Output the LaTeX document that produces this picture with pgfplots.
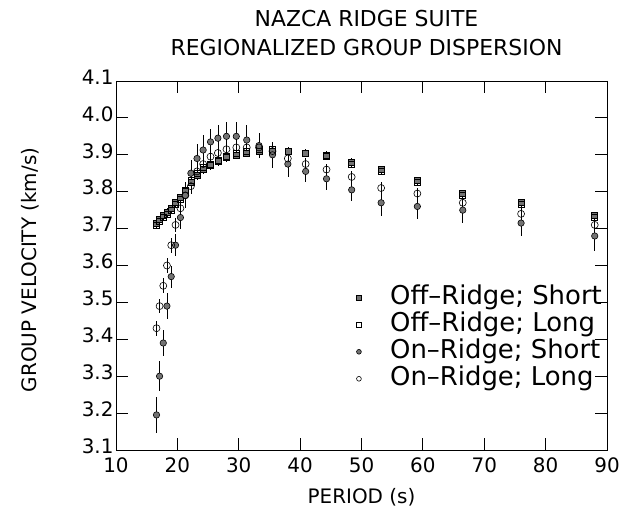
\documentclass[border=0pt]{standalone}
\usepackage{fontspec}
\setmainfont{DejaVu Sans}
\usepackage{pgfplots}
\pgfplotsset{compat=1.18}
\usepackage{pgfplotstable}
\usetikzlibrary{calc}

\pgfplotstableread{
p v e
16.6 3.715 0.010
17.1 3.725 0.010
17.7 3.735 0.010
18.3 3.745 0.010
19.0 3.755 0.010
19.7 3.770 0.010
20.5 3.785 0.010
21.3 3.805 0.010
22.2 3.825 0.012
23.2 3.845 0.012
24.2 3.860 0.012
25.4 3.872 0.012
26.6 3.882 0.012
28.0 3.892 0.012
29.6 3.900 0.012
31.3 3.905 0.012
33.3 3.910 0.012
35.5 3.910 0.012
38.0 3.910 0.012
40.9 3.905 0.010
44.3 3.900 0.010
48.4 3.880 0.010
53.2 3.860 0.010
59.1 3.830 0.010
66.5 3.795 0.010
76.0 3.770 0.010
88.0 3.735 0.010
}\offshort

\pgfplotstableread{
p v e
16.6 3.710 0.010
17.1 3.720 0.010
17.7 3.730 0.010
18.3 3.740 0.010
19.0 3.750 0.010
19.7 3.765 0.010
20.5 3.780 0.010
21.3 3.800 0.010
22.2 3.830 0.015
23.2 3.850 0.015
24.2 3.865 0.015
25.4 3.875 0.015
26.6 3.885 0.015
28.0 3.895 0.015
29.6 3.905 0.015
31.3 3.910 0.015
33.3 3.915 0.015
35.5 3.915 0.015
38.0 3.910 0.012
40.9 3.905 0.010
44.3 3.895 0.010
48.4 3.875 0.010
53.2 3.855 0.010
59.1 3.825 0.010
66.5 3.790 0.010
76.0 3.765 0.010
88.0 3.730 0.010
}\offlong

\pgfplotstableread{
p v e
16.6 3.195 0.050
17.1 3.300 0.040
17.7 3.390 0.035
18.3 3.490 0.035
19.0 3.570 0.030
19.7 3.655 0.030
20.5 3.730 0.030
21.3 3.790 0.035
22.2 3.850 0.035
23.2 3.890 0.040
24.2 3.913 0.040
25.4 3.935 0.035
26.6 3.945 0.035
28.0 3.950 0.040
29.6 3.950 0.040
31.3 3.940 0.040
33.3 3.925 0.035
35.5 3.900 0.035
38.0 3.875 0.035
40.9 3.855 0.030
44.3 3.835 0.030
48.4 3.805 0.030
53.2 3.770 0.035
59.1 3.760 0.035
66.5 3.750 0.035
76.0 3.715 0.035
88.0 3.680 0.040
}\onshort

\pgfplotstableread{
p v e
16.6 3.430 0.020
17.1 3.490 0.020
17.7 3.545 0.020
18.3 3.600 0.020
19.0 3.655 0.020
19.7 3.710 0.020
20.5 3.755 0.020
21.3 3.790 0.020
22.2 3.815 0.020
23.2 3.855 0.020
24.2 3.875 0.020
25.4 3.895 0.020
26.6 3.905 0.020
28.0 3.915 0.020
29.6 3.920 0.020
31.3 3.920 0.015
33.3 3.920 0.015
35.5 3.910 0.015
38.0 3.890 0.015
40.9 3.875 0.015
44.3 3.860 0.015
48.4 3.840 0.015
53.2 3.810 0.015
59.1 3.795 0.015
66.5 3.770 0.015
76.0 3.740 0.015
88.0 3.710 0.015
}\onlong

\begin{document}
\begin{tikzpicture}
\begin{axis}[
  name=ax,
  scale only axis,
  width=491bp, height=369bp,
  xmin=10, xmax=90, ymin=3.1, ymax=4.1,
  xtick={10,20,30,40,50,60,70,80,90},
  ytick={3.1,3.2,3.3,3.4,3.5,3.6,3.7,3.8,3.9,4.0,4.1},
  yticklabel style={/pgf/number format/fixed, /pgf/number format/fixed zerofill, /pgf/number format/precision=1, xshift=1bp, yshift=4bp},
  xticklabel style={yshift=-4bp},
  /pgf/number format/assume math mode=true,
  tick label style={font=\fontsize{20}{24}\selectfont},
  tick align=inside,
  major tick length=12bp,
  tick style={line width=0.8bp, black},
  axis line style={line width=0.9bp},
  xlabel={PERIOD (s)},
  ylabel={GROUP VELOCITY (km/s)},
  label style={font=\fontsize{20}{24}\selectfont},
  xlabel style={at={(axis description cs:0.5,-0.127)}, anchor=center},
  ylabel style={at={(axis description cs:-0.175,0.488)}, anchor=center},
  legend style={draw=none, fill=none, at={(1.0,0.455)}, anchor=north east,
    font=\fontsize{26}{27}\selectfont, row sep=0bp,
    nodes={inner sep=2bp, text height=18bp, text depth=5bp}},
  legend cell align=left,
  legend image code/.code={\draw[#1, mark size=2.4bp, line width=0.6bp] plot coordinates {(0bp,0bp)}; \path (-4bp,0bp) (29bp,0bp);},
  error bars/error bar style={line width=0.7bp, black},
]
\addplot[only marks, mark=square*, mark size=3bp, mark options={draw=black, fill=black!55, line width=0.6bp},
  error bars/.cd, y dir=both, y explicit, error mark=none]
  table[x=p, y=v, y error=e]{\offshort};
\addlegendentry{Off--Ridge; Short}
\addplot[only marks, mark=square, mark size=3bp, mark options={draw=black, fill=white, line width=0.6bp},
  error bars/.cd, y dir=both, y explicit, error mark=none]
  table[x=p, y=v, y error=e]{\offlong};
\addlegendentry{Off--Ridge; Long}
\addplot[only marks, mark=*, mark size=3.2bp, mark options={draw=black, fill=black!55, line width=0.6bp},
  error bars/.cd, y dir=both, y explicit, error mark=none]
  table[x=p, y=v, y error=e]{\onshort};
\addlegendentry{On--Ridge; Short}
\addplot[only marks, mark=o, mark size=3.5bp, mark options={draw=black, line width=0.6bp},
  error bars/.cd, y dir=both, y explicit, error mark=none]
  table[x=p, y=v, y error=e]{\onlong};
\addlegendentry{On--Ridge; Long}
\end{axis}
\node[font=\fontsize{22}{30}\selectfont, align=center] at ($(ax.north)+(5bp,48bp)$)
  {NAZCA RIDGE SUITE\\REGIONALIZED GROUP DISPERSION};
\pgfresetboundingbox
\path[use as bounding box] ($(ax.south west)+(-116bp,-64bp)$) rectangle ($(ax.north east)+(37bp,81bp)$);
\end{tikzpicture}
\end{document}
